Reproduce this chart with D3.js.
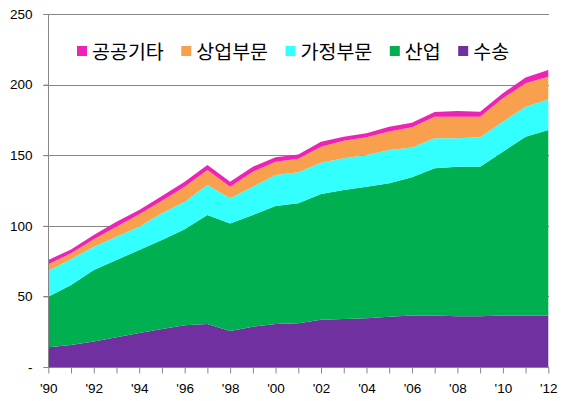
<!DOCTYPE html>
<html><head><meta charset="utf-8">
<script src="https://cdn.jsdelivr.net/npm/d3@7"></script>
<style>body{margin:0;background:#fff;}svg{display:block;}</style>
</head><body>
<svg id="c" width="567" height="401"></svg>
<script>
const years = [1990,1991,1992,1993,1994,1995,1996,1997,1998,1999,2000,2001,2002,2003,2004,2005,2006,2007,2008,2009,2010,2011,2012];
const transport = [14,15.5,18,21,24,27,29.5,30.5,25.5,28.5,30.5,31,33.5,34,34.5,35.5,36.5,36.5,36,36,36.5,36.5,36.5];
const industry = [35.8,42.6,50.7,54.8,58.9,62.9,68,77.1,76.2,79.1,83.5,85,89,91.4,93.2,94.6,97.8,104.2,105.9,105.9,116,126.6,131.3];
const residential = [18.2,18.2,16.5,16.5,16.5,18.9,19.6,21.3,17.8,20.1,22,22,22.2,22.4,22.4,23.6,21.2,21.3,20.1,20.8,21.2,21.3,21.7];
const commercial = [4.7,4.2,5.2,7.1,8.7,9,10.6,10.6,8.2,10.6,9.4,9.5,11.3,12.5,12.6,13,14.3,15.3,15.3,14.6,16.6,16.5,16.1];
const publicEtc = [3.1,2.8,3.1,3.5,3.1,3.3,3.5,3.5,3.5,3.6,3.1,3,3.6,2.8,2.8,3.5,3.2,3.3,4,3.5,3.5,4.2,4.7];
const seriesNames = ["수송","산업","가정부문","상업부문","공공기타"];
const seriesColors = ["#7030A0","#00B050","#33FFFF","#F9A04E","#EE22B4"];
const legendOrder = ["공공기타","상업부문","가정부문","산업","수송"];
const yTicks = [0,50,100,150,200,250];
const xTickYears = [1990,1992,1994,1996,1998,2000,2002,2004,2006,2008,2010,2012];

const seriesValues = [transport, industry, residential, commercial, publicEtc];
const table = years.map((y,i)=>{const o={year:y}; seriesNames.forEach((n,k)=>o[n]=seriesValues[k][i]); return o;});

const svg = d3.select("#c");
const L=48.3, R=548.3, T=14, B=367;
const x = d3.scaleLinear().domain([1990,2012]).range([L,R]);
const y = d3.scaleLinear().domain([0,250]).range([B,T]);
const font = "'Liberation Sans', Arial, sans-serif";

// gridlines
svg.append("g").selectAll("line").data(yTicks.filter(d=>d>0)).join("line")
  .attr("x1",L-5).attr("x2",R+0.7).attr("y1",d=>Math.round(y(d))+0.5).attr("y2",d=>Math.round(y(d))+0.5)
  .attr("stroke","#868686").attr("stroke-width",1);

// stacked areas
const stack = d3.stack().keys(seriesNames);
const layers = stack(table);
const area = d3.area().x(d=>x(d.data.year)).y0(d=>y(d[0])).y1(d=>y(d[1]));
svg.append("g").selectAll("path").data(layers).join("path")
  .attr("d",area).attr("fill",(d,i)=>seriesColors[i]);

// y axis
const yAxis = d3.axisLeft(y).tickValues(yTicks).tickSize(5).tickPadding(9)
  .tickFormat(d=>d===0?"-":d);
const ga = svg.append("g").attr("transform",`translate(${Math.round(L)+0.5},0)`).call(yAxis);
ga.select(".domain").attr("stroke","#868686").attr("d",`M-5,${B+0.5}H0V${T}`);
ga.selectAll(".tick line").attr("stroke","#868686");
ga.selectAll(".tick text").attr("font-family",font).attr("font-size",13.5).attr("fill","#000").attr("dx",-2);

// x axis
const xAxis = d3.axisBottom(x).tickValues(years).tickSize(6).tickFormat(d=>xTickYears.includes(d)?"'"+String(d).slice(2):"");
const gx = svg.append("g").attr("transform",`translate(0,${Math.round(B)+0.5})`).call(xAxis);
gx.select(".domain").attr("stroke","#868686").attr("d",`M${L},0H${R+0.7}`);
gx.selectAll(".tick line").attr("stroke","#868686");
gx.selectAll(".tick text").attr("font-family",font).attr("font-size",13.5).attr("fill","#000").attr("dy","1.2em");

// legend
const lg = svg.append("g");
let lx = 77;
legendOrder.forEach(n=>{
  const k = seriesNames.indexOf(n);
  lg.append("rect").attr("x",lx).attr("y",46).attr("width",10).attr("height",10).attr("fill",seriesColors[k]);
  const t = lg.append("text").attr("x",lx+15).attr("y",59).text(n)
    .attr("font-family","'Noto Sans CJK KR', sans-serif").attr("font-size",19.5).attr("fill","#000");
  lx += 15 + t.node().getComputedTextLength() + 17.5;
});
</script>
</body></html>
